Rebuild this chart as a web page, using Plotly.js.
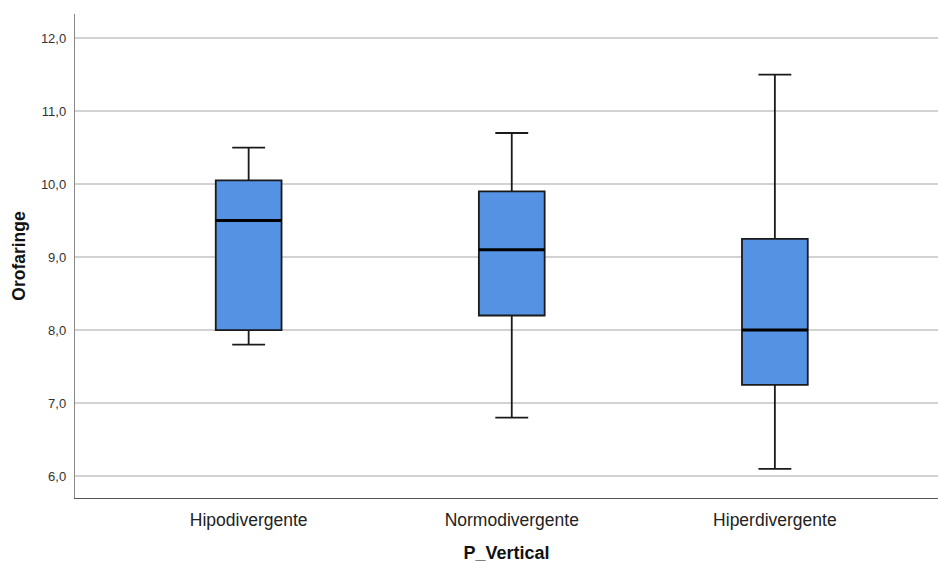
<!DOCTYPE html>
<html><head><meta charset="utf-8">
<script src="https://cdn.plot.ly/plotly-3.0.1.min.js"></script>
<style>body{margin:0;background:#fff}#c{width:938px;height:564px}</style>
</head><body><div id="c"></div>
<script>
const categories = ["Hipodivergente", "Normodivergente", "Hiperdivergente"];
const lowerWhisker = [7.8, 6.8, 6.1];
const q1 = [8.0, 8.2, 7.25];
const median = [9.5, 9.1, 8.0];
const q3 = [10.05, 9.9, 9.25];
const upperWhisker = [10.5, 10.7, 11.5];
const yTicks = [6, 7, 8, 9, 10, 11, 12];

const boxWidth = 0.25;
const trace = {
  type: "box",
  x: categories,
  lowerfence: lowerWhisker,
  q1: q1,
  median: median,
  q3: q3,
  upperfence: upperWhisker,
  width: boxWidth,
  whiskerwidth: 0.5,
  fillcolor: "#5592E3",
  line: {color: "#1a1a1a", width: 1.8},
  boxpoints: false,
  hoverinfo: "skip",
  showlegend: false
};

const shapes = median.map((m, i) => ({
  type: "line", xref: "x", yref: "y",
  x0: i - boxWidth / 2, x1: i + boxWidth / 2, y0: m, y1: m,
  line: {color: "#000", width: 3}
}));

const layout = {
  width: 938, height: 564,
  margin: {l: 75, r: 0, t: 14, b: 66},
  paper_bgcolor: "#fff", plot_bgcolor: "#fff",
  separators: ",.",
  font: {family: "Liberation Sans, Arial, sans-serif", color: "#222"},
  xaxis: {
    type: "category",
    range: [-0.66, 2.62],
    showgrid: false, zeroline: false,
    showline: true, linecolor: "#555", linewidth: 1.2,
    ticks: "",
    ticklabelstandoff: 6,
    tickfont: {size: 17.5, color: "#222"},
    title: {text: "<b>P_Vertical</b>", font: {size: 18, color: "#111"}, standoff: 17}
  },
  yaxis: {
    range: [5.7, 12.33],
    tickvals: yTicks,
    tickformat: ".1f",
    showgrid: true, gridcolor: "#d2d2d2", gridwidth: 1.5,
    zeroline: false,
    showline: true, linecolor: "#888", linewidth: 1.2,
    ticks: "",
    ticklabelstandoff: 5,
    tickfont: {size: 13, color: "#333"},
    title: {text: "<b>Orofaringe</b>", font: {size: 17.5, color: "#111"}, standoff: 10}
  },
  shapes: shapes
};

Plotly.newPlot("c", [trace], layout, {displayModeBar: false, staticPlot: true});
</script></body></html>
